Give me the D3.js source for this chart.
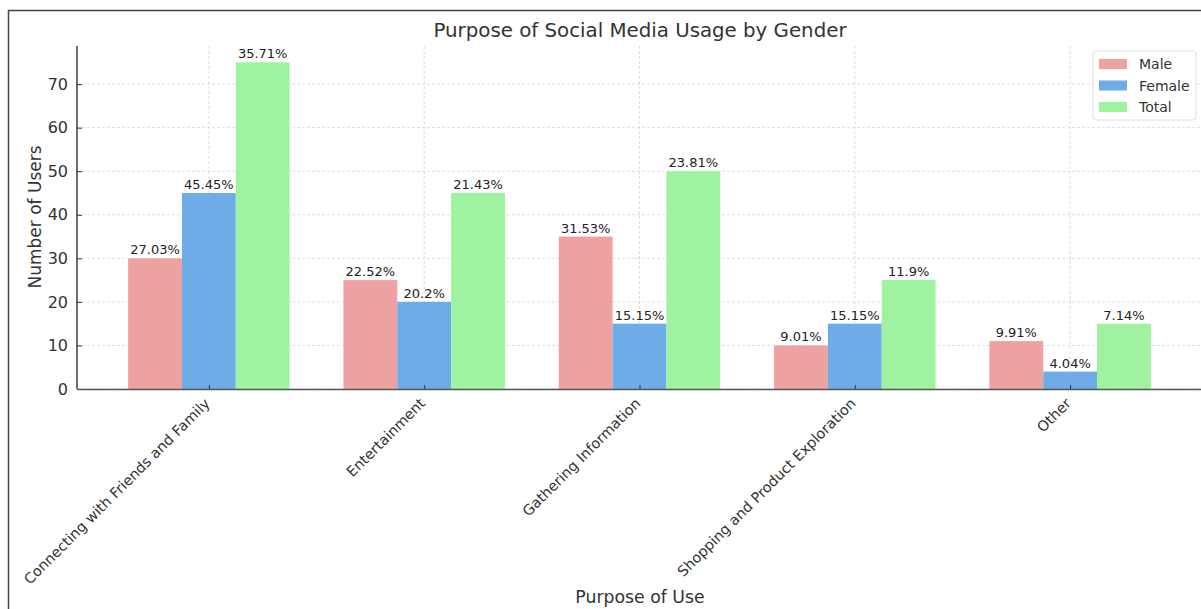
<!DOCTYPE html>
<html>
<head>
<meta charset="utf-8">
<script src="https://cdn.jsdelivr.net/npm/d3@7"></script>
<style>
  html, body { margin: 0; padding: 0; background: #fff; }
  svg { display: block; font-family: "DejaVu Sans", sans-serif; }
</style>
</head>
<body>
<svg id="chart" width="1201" height="609"></svg>
<script>
// Social media usage purposes, counts per group
const categories = [
  "Connecting with Friends and Family",
  "Entertainment",
  "Gathering Information",
  "Shopping and Product Exploration",
  "Other"
];
const seriesNames = ["Male", "Female", "Total"];
const maleValues = [30, 25, 35, 10, 11];
const femaleValues = [45, 20, 15, 15, 4];
const totalValues = [75, 45, 50, 25, 15];
// Share of each group's total, shown above the bars
const maleLabels = ["27.03%", "22.52%", "31.53%", "9.01%", "9.91%"];
const femaleLabels = ["45.45%", "20.2%", "15.15%", "15.15%", "4.04%"];
const totalLabels = ["35.71%", "21.43%", "23.81%", "11.9%", "7.14%"];
const yTicks = [0, 10, 20, 30, 40, 50, 60, 70];

const series = [
  { name: seriesNames[0], values: maleValues, labels: maleLabels, color: "#eea1a1" },
  { name: seriesNames[1], values: femaleValues, labels: femaleLabels, color: "#6eace8" },
  { name: seriesNames[2], values: totalValues, labels: totalLabels, color: "#9ff29f" }
];

const svg = d3.select("#chart");
const plotLeft = 77, plotRight = 1202, plotTop = 46, plotBottom = 389;
const textColor = "#333";

// Outer frame
svg.append("rect")
  .attr("x", 8.5).attr("y", 10.5)
  .attr("width", 1300).attr("height", 700)
  .attr("fill", "none").attr("stroke", "#444").attr("stroke-width", 1.5);

// Category positions: index scale with bar offsets of a quarter unit
const barW = 0.25;
const x = d3.scaleLinear()
  .domain([-0.6125, categories.length - 1 + 0.6125])
  .range([plotLeft, plotRight]);
const y = d3.scaleLinear()
  .domain([0, d3.max(totalValues) * 1.05])
  .range([plotBottom, plotTop]);

// Grid
const grid = svg.append("g").attr("stroke", "#d4d4d4").attr("stroke-width", 0.8)
  .attr("stroke-dasharray", "3,2");
grid.selectAll("line.h").data(yTicks).join("line")
  .attr("class", "h")
  .attr("x1", plotLeft).attr("x2", plotRight)
  .attr("y1", d => y(d)).attr("y2", d => y(d));
grid.selectAll("line.v").data(categories).join("line")
  .attr("class", "v")
  .attr("x1", (d, i) => x(i)).attr("x2", (d, i) => x(i))
  .attr("y1", plotTop).attr("y2", plotBottom);

// Bars
series.forEach((s, si) => {
  const off = (si - 1) * barW;
  const g = svg.append("g");
  g.selectAll("rect").data(s.values).join("rect")
    .attr("x", (d, i) => x(i + off - barW / 2))
    .attr("width", x(barW) - x(0))
    .attr("y", d => y(d))
    .attr("height", d => y(0) - y(d))
    .attr("fill", s.color);
  g.selectAll("text").data(s.values).join("text")
    .attr("x", (d, i) => x(i + off))
    .attr("y", d => y(d) - 4)
    .attr("text-anchor", "middle")
    .attr("font-size", 13)
    .attr("fill", "#222")
    .text((d, i) => s.labels[i]);
});

// Axes
const yAxis = d3.axisLeft(y).tickValues(yTicks).tickSizeInner(-5).tickSizeOuter(0).tickPadding(9);
const yg = svg.append("g").attr("transform", `translate(${plotLeft},0)`).call(yAxis);
yg.select(".domain").attr("stroke", "#333").attr("stroke-width", 1.4).attr("d", `M0,${plotTop}V${plotBottom}`);
yg.selectAll(".tick line").attr("stroke", "#333");
yg.selectAll(".tick text").attr("font-size", 16).attr("fill", textColor)
  .attr("font-family", "DejaVu Sans, sans-serif");

const xAxis = d3.axisBottom(x).tickValues(d3.range(categories.length))
  .tickFormat(i => categories[i]).tickSizeInner(-4).tickSizeOuter(0);
const xg = svg.append("g").attr("transform", `translate(0,${plotBottom})`).call(xAxis);
xg.select(".domain").attr("stroke", "#555").attr("stroke-width", 1.6);
xg.selectAll(".tick line").attr("stroke", "#333");
xg.selectAll(".tick text")
  .attr("font-size", 14.4).attr("fill", textColor)
  .attr("font-family", "DejaVu Sans, sans-serif")
  .attr("text-anchor", "end")
  .attr("dy", null).attr("y", 0)
  .attr("transform", "translate(-6,8) rotate(-45)")
  .attr("dominant-baseline", "hanging");

// Titles
svg.append("text").attr("x", 640).attr("y", 37).attr("text-anchor", "middle")
  .attr("font-size", 19.8).attr("fill", textColor).text("Purpose of Social Media Usage by Gender");
svg.append("text").attr("x", 640).attr("y", 603).attr("text-anchor", "middle")
  .attr("font-size", 17.3).attr("fill", textColor).text("Purpose of Use");
svg.append("text").attr("transform", "translate(41,217) rotate(-90)").attr("text-anchor", "middle")
  .attr("font-size", 17).attr("fill", textColor).text("Number of Users");

// Legend
const lg = svg.append("g").attr("transform", "translate(1093,51)");
lg.append("rect").attr("width", 103).attr("height", 69).attr("rx", 3)
  .attr("fill", "#fff").attr("fill-opacity", 0.85).attr("stroke", "#ddd");
series.forEach((s, i) => {
  lg.append("rect").attr("x", 6).attr("y", 8 + i * 21.5).attr("width", 28).attr("height", 10).attr("fill", s.color);
  lg.append("text").attr("x", 46).attr("y", 18 + i * 21.5).attr("font-size", 14)
    .attr("fill", textColor).text(s.name);
});
</script>
</body>
</html>
